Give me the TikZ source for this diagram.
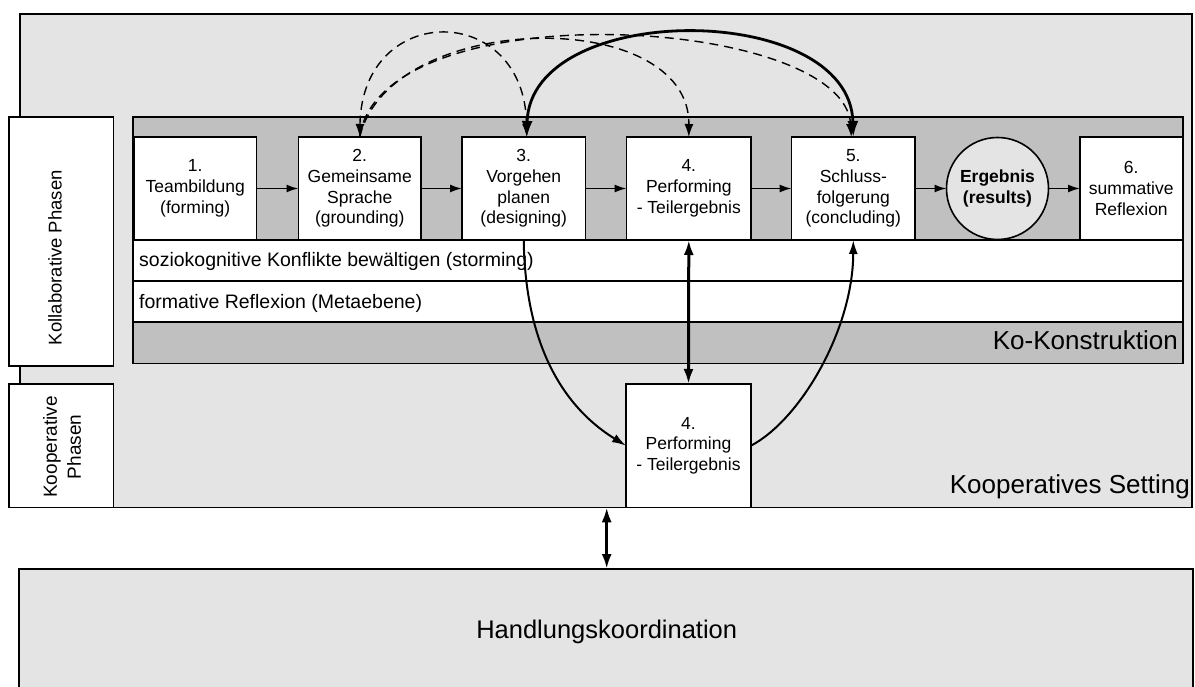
\documentclass[tikz,border=0pt]{standalone}
\usepackage{fontspec}
\setmainfont{Liberation Sans}
\usetikzlibrary{arrows.meta,calc}
\definecolor{lightg}{HTML}{E4E4E4}
\definecolor{midg}{HTML}{C0C0C0}
\begin{document}
\begin{tikzpicture}[x=1pt,y=-1pt,
  frame/.style={draw=black, line width=1.6pt, inner sep=0pt, outer sep=0pt},
  phase/.style={frame, fill=white, minimum height=103pt, align=center,
                font=\fontsize{17.5}{20.8}\selectfont},
  rowbox/.style={frame, fill=white, minimum width=1050pt},
  rowtxt/.style={font=\fontsize{19.5}{22}\selectfont, inner sep=0pt},
  bigtxt/.style={font=\fontsize{26}{30}\selectfont, inner sep=0pt},
  harr/.style={line width=1.8pt, -{Latex[length=12pt,width=8pt]}},
  thinarr/.style={line width=2pt, -{Latex[length=14pt,width=9pt]}},
  dblarr/.style={line width=3pt, {Latex[length=15pt,width=10pt]}-{Latex[length=15pt,width=10pt]}},
  dasharr/.style={line width=1.4pt, dash pattern=on 9pt off 6pt},
  bowarr/.style={line width=2.8pt},
  dhead/.style={-{Latex[length=13pt,width=9pt]}},
]
\useasboundingbox (0,0) rectangle (1195,687);

% outer setting and labels
\node[frame, fill=lightg, minimum width=1172pt, minimum height=493.3pt] (outer) at (606,260.65) {};
\node[frame, fill=white, minimum width=104.5pt, minimum height=248.7pt] (lab1) at (61.25,241.65) {};
\node[frame, fill=white, minimum width=104.5pt, minimum height=123.3pt] (lab2) at (61.25,445.65) {};
\node[rotate=90, anchor=base, font=\fontsize{18.5}{22}\selectfont, inner sep=0pt] (tlab1) at (61.7,257.7) {Kollaborative Phasen};
\node[rotate=90, align=center, font=\fontsize{19}{24}\selectfont, inner sep=0pt] (tlab2) at (62,447) {Kooperative\\Phasen};

% Ko-Konstruktion block
\node[frame, fill=midg, minimum width=1050pt, minimum height=246.3pt] (ko) at (658,240.15) {};
\node[rowbox, minimum height=41pt] (r1) at (658,260.5) {};
\node[rowbox, minimum height=41.3pt] (r2) at (658,301.65) {};
\node[rowtxt, anchor=base west] (t1) at (139,267) {soziokognitive Konflikte bewältigen (storming)};
\node[rowtxt, anchor=base west] (t2) at (139,308.5) {formative Reflexion (Metaebene)};
\node[bigtxt, anchor=base east] (tko) at (1178,349) {Ko-Konstruktion};
\node[bigtxt, anchor=base east] (tset) at (1190,493) {Kooperatives Setting};

% phase boxes
\node[phase, minimum width=122.5pt] (b1) at (195.25,188.5) {1.\\Teambildung\\(forming)};
\node[phase, minimum width=122.5pt] (b2) at (359.75,188.5) {2.\\Gemeinsame\\Sprache\\(grounding)};
\node[phase, minimum width=123.5pt] (b3) at (523.75,188.5) {3.\\Vorgehen\\planen\\(designing)};
\node[phase, minimum width=124.4pt] (b4) at (688.8,188.5) {4.\\Performing\\- Teilergebnis};
\node[phase, minimum width=123.4pt] (b5) at (853.3,188.5) {5.\\Schluss-\\folgerung\\(concluding)};
\node[frame, circle, fill=lightg, minimum size=102pt, align=center,
      font=\bfseries\fontsize{17.5}{20.8}\selectfont] (res) at (997.5,188.5) {Ergebnis\\(results)};
\node[phase, minimum width=102.5pt] (b6) at (1131.25,188.5) {6.\\summative\\Reflexion};

% lower performing box
\node[phase, minimum width=125pt, minimum height=123.3pt] (lb4) at (688.5,445.65) {4.\\Performing\\- Teilergebnis};

% Handlungskoordination
\node[frame, fill=lightg, minimum width=1174pt, minimum height=136pt] (hk) at (606,637) {};
\node[font=\fontsize{25.5}{30}\selectfont, inner sep=0pt, anchor=base] (thk) at (606.7,638) {Handlungskoordination};

% horizontal flow
\draw[harr] (b1.east) -- (b2.west);
\draw[harr] (b2.east) -- (b3.west);
\draw[harr] (b3.east) -- (b4.west);
\draw[harr] (b4.east) -- (b5.west);
\draw[harr] (b5.east) -- (res.west);
\draw[harr] (res.east) -- (b6.west);

% dashed feedback arcs
\draw[dasharr, {Latex[length=13pt,width=9pt]}-{Latex[length=13pt,width=9pt]}]
  (b2.north) .. controls (362,1) and (525,1) .. ([xshift=3pt]b3.north);
\draw[dasharr, dhead] (b2.north) .. controls (390,10) and (690,5) .. (b4.north);
\draw[dasharr, dhead] (b2.north) .. controls (380,-10) and (845,15) .. ([xshift=-2pt]b5.north);

% thick arc between 3 and 5
\draw[bowarr, {Latex[length=16pt,width=11pt]}-{Latex[length=16pt,width=11pt]}]
  ([xshift=3pt]b3.north) .. controls (530,0) and (850,0) .. (b5.north);

% lower curves
\draw[thinarr] (b3.south) .. controls (525,340) and (560,405) .. (lb4.west);
\draw[thinarr] (lb4.east) .. controls (800,420) and (853,330) .. (b5.south);
\draw[dblarr] (b4.south) -- (lb4.north);
\coordinate (sb) at (606.7,507.3);
\draw[dblarr] (sb) -- (hk.north -| sb);
\end{tikzpicture}
\end{document}
